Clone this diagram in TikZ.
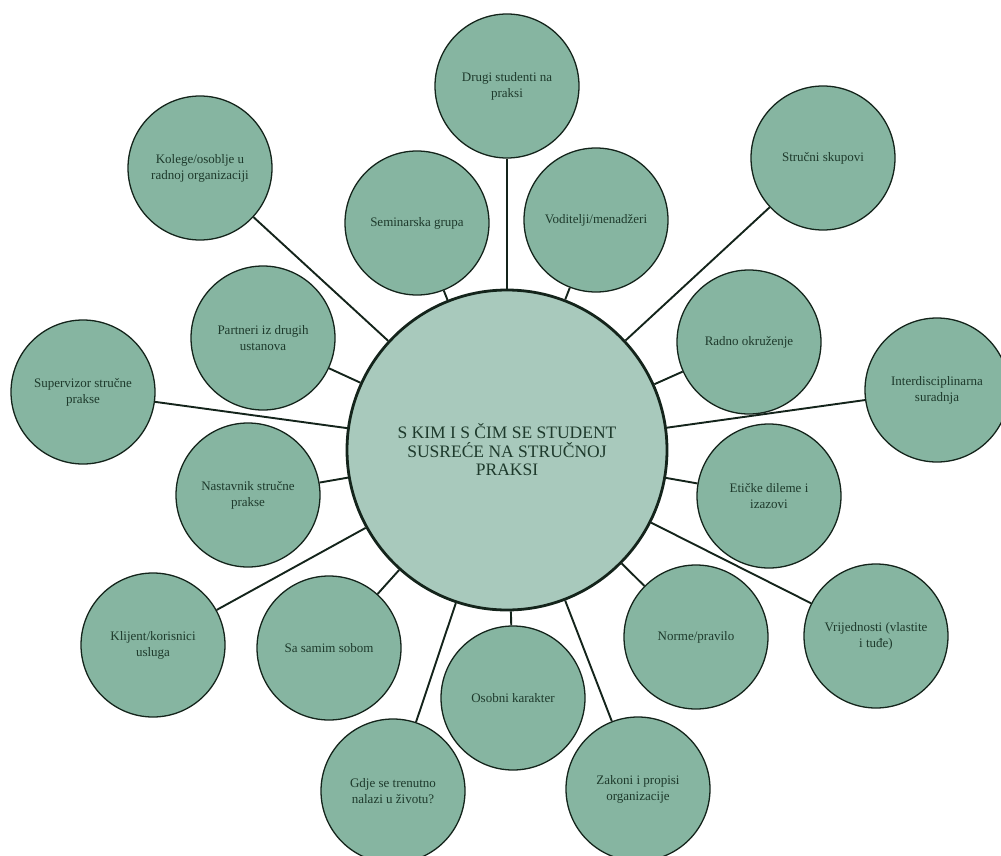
\documentclass[tikz,border=0pt]{standalone}
\usepackage{fontspec}
\setmainfont{Liberation Serif}
\definecolor{outerfill}{HTML}{86B5A1}
\definecolor{innerfill}{HTML}{A8C9BC}
\definecolor{edgecol}{HTML}{14241B}
\definecolor{txt}{HTML}{1E3A2C}
\begin{document}
\begin{tikzpicture}[x=1pt,y=-1pt,
  outer/.style={circle, draw=edgecol, line width=1.3pt, fill=outerfill, minimum size=144pt, inner sep=0pt, align=center, text=txt, font=\fontsize{13}{16}\selectfont},
  hub/.style={circle, draw=edgecol, line width=2.8pt, fill=innerfill, minimum size=320pt, inner sep=0pt, align=center, text=txt, font=\fontsize{17.5}{18.5}\selectfont},
  link/.style={draw=edgecol, line width=1.9pt}]
\useasboundingbox (0,0) rectangle (1001,856);
\node[hub] (c) at (507,450) {S KIM I S ČIM SE STUDENT\\SUSREĆE NA STRUČNOJ\\PRAKSI};
\node[outer] (n1) at (507,86) {Drugi studenti na\\praksi};
\node[outer] (n2) at (200,168) {Kolege/osoblje u\\radnoj organizaciji};
\node[outer] (n3) at (823,158) {Stručni skupovi};
\node[outer] (n4) at (417,223) {Seminarska grupa};
\node[outer] (n5) at (596,220) {Voditelji/menadžeri};
\node[outer] (n6) at (749,342) {Radno okruženje};
\node[outer] (n7) at (263,338) {Partneri iz drugih\\ustanova};
\node[outer] (n8) at (937,390) {Interdisciplinarna\\suradnja};
\node[outer] (n9) at (83,392) {Supervizor stručne\\prakse};
\node[outer] (n10) at (248,495) {Nastavnik stručne\\prakse};
\node[outer] (n11) at (769,496) {Etičke dileme i\\izazovi};
\node[outer] (n12) at (153,645) {Klijent/korisnici\\usluga};
\node[outer] (n13) at (329,648) {Sa samim sobom};
\node[outer] (n14) at (696,637) {Norme/pravilo};
\node[outer] (n15) at (876,636) {Vrijednosti (vlastite\\i tuđe)};
\node[outer] (n16) at (513,698) {Osobni karakter};
\node[outer] (n17) at (393,791) {Gdje se trenutno\\nalazi u životu?};
\node[outer] (n18) at (638,789) {Zakoni i propisi\\organizacije};
\foreach \n in {n1,n2,n3,n4,n5,n6,n7,n8,n9,n10,n11,n12,n13,n14,n15,n16,n17,n18}
  \draw[link] (c) -- (\n);
\end{tikzpicture}
\end{document}
